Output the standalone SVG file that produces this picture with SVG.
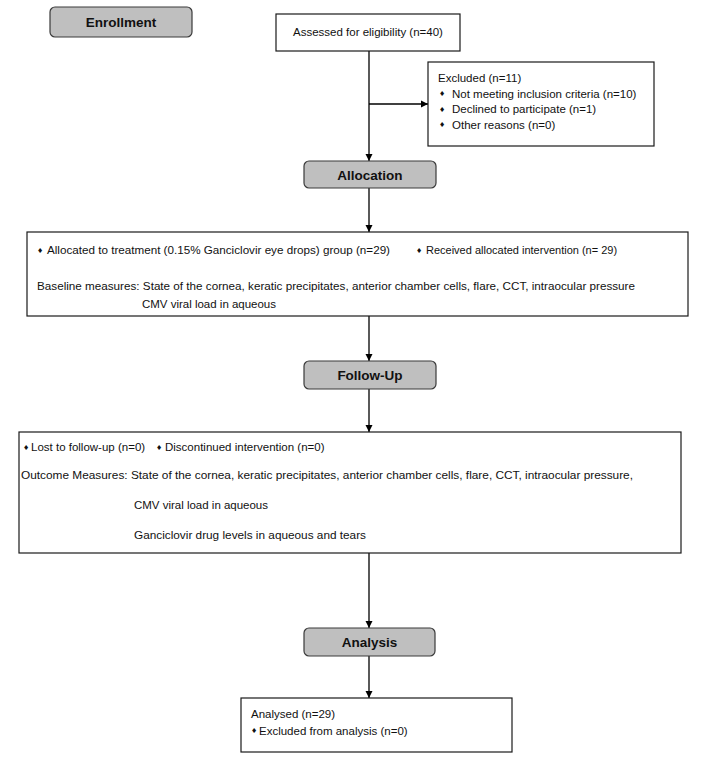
<svg xmlns="http://www.w3.org/2000/svg" width="704" height="767" viewBox="0 0 704 767">
<defs>
<marker id="arr" viewBox="0 0 10 10" refX="10" refY="5" markerWidth="7" markerHeight="8" markerUnits="userSpaceOnUse" orient="auto">
<path d="M0,0 L10,5 L0,10 z" fill="#000"/>
</marker>
<style>
.hdr{fill:#bfbfbf;stroke:#3a3a3a;stroke-width:1.2}
.box{fill:#fff;stroke:#1a1a1a;stroke-width:1.2}
.ht{font-family:"Liberation Sans",Arial,sans-serif;font-weight:bold;font-size:13.5px;fill:#111;text-anchor:middle}
.a{font-family:"Liberation Sans",Arial,sans-serif;font-size:11.5px;fill:#111}
.c{font-family:"Liberation Sans",Arial,sans-serif;font-size:11px;fill:#111}
.b{font-family:"DejaVu Sans",sans-serif;font-size:7px;fill:#111}
.ln{stroke:#000;stroke-width:1.3;fill:none}
</style>
</defs>
<rect width="704" height="767" fill="#fff"/>
<g id="connectors">
<line class="ln" x1="369" y1="51" x2="369" y2="161" marker-end="url(#arr)"/>
<line class="ln" x1="369" y1="104" x2="428" y2="104" marker-end="url(#arr)"/>
<line class="ln" x1="369" y1="188" x2="369" y2="232" marker-end="url(#arr)"/>
<line class="ln" x1="369" y1="316" x2="369" y2="361" marker-end="url(#arr)"/>
<line class="ln" x1="369" y1="389" x2="369" y2="432" marker-end="url(#arr)"/>
<line class="ln" x1="369" y1="553" x2="369" y2="628" marker-end="url(#arr)"/>
<line class="ln" x1="369" y1="656" x2="369" y2="698" marker-end="url(#arr)"/>
</g>
<g id="enrollment">
<rect class="hdr" x="50" y="7" width="142" height="30" rx="5"/>
<text class="ht" x="121" y="27">Enrollment</text>
</g>
<g id="assessed">
<rect class="box" x="276" y="14" width="184" height="37"/>
<text class="a" x="293" y="36">Assessed for eligibility (n=40)</text>
</g>
<g id="excluded">
<rect class="box" x="428" y="62" width="226" height="84"/>
<text class="a" x="438" y="82">Excluded (n=11)</text>
<text class="b" x="439" y="96">♦</text>
<text class="a" x="452" y="97.5">Not meeting inclusion criteria (n=10)</text>
<text class="b" x="439" y="111.5">♦</text>
<text class="a" x="452" y="113">Declined to participate (n=1)</text>
<text class="b" x="439" y="127">♦</text>
<text class="a" x="452" y="128.5">Other reasons (n=0)</text>
</g>
<g id="allocation">
<rect class="hdr" x="304" y="161" width="132" height="27" rx="5"/>
<text class="ht" x="370" y="180">Allocation</text>
</g>
<g id="allocated">
<rect class="box" x="27" y="232" width="661" height="84"/>
<text class="b" x="37" y="253">♦</text>
<text class="c" x="47" y="254" textLength="343" lengthAdjust="spacingAndGlyphs">Allocated to treatment (0.15% Ganciclovir eye drops) group (n=29)</text>
<text class="b" x="416" y="253">♦</text>
<text class="c" x="426" y="254">Received allocated intervention (n= 29)</text>
<text class="c" x="37" y="290" textLength="598" lengthAdjust="spacingAndGlyphs">Baseline measures: State of the cornea, keratic precipitates, anterior chamber cells, flare, CCT, intraocular pressure</text>
<text class="c" x="142" y="308" textLength="134" lengthAdjust="spacingAndGlyphs">CMV viral load in aqueous</text>
</g>
<g id="followup">
<rect class="hdr" x="304" y="361" width="132" height="28" rx="5"/>
<text class="ht" x="370" y="380">Follow-Up</text>
</g>
<g id="outcome">
<rect class="box" x="19" y="432" width="662" height="121"/>
<text class="b" x="23" y="450">♦</text>
<text class="a" x="31" y="451">Lost to follow-up (n=0)</text>
<text class="b" x="156" y="450">♦</text>
<text class="a" x="165" y="451">Discontinued intervention (n=0)</text>
<text class="c" x="21" y="479" textLength="612" lengthAdjust="spacingAndGlyphs">Outcome Measures: State of the cornea, keratic precipitates, anterior chamber cells, flare, CCT, intraocular pressure,</text>
<text class="c" x="134" y="509" textLength="134" lengthAdjust="spacingAndGlyphs">CMV viral load in aqueous</text>
<text class="c" x="134" y="539" textLength="232" lengthAdjust="spacingAndGlyphs">Ganciclovir drug levels in aqueous and tears</text>
</g>
<g id="analysis">
<rect class="hdr" x="304" y="628" width="131" height="28" rx="5"/>
<text class="ht" x="369.5" y="647">Analysis</text>
</g>
<g id="analysed">
<rect class="box" x="241" y="698" width="271" height="54"/>
<text class="a" x="251" y="718">Analysed (n=29)</text>
<text class="b" x="251" y="733">♦</text>
<text class="a" x="259" y="734.5">Excluded from analysis (n=0)</text>
</g>
</svg>
